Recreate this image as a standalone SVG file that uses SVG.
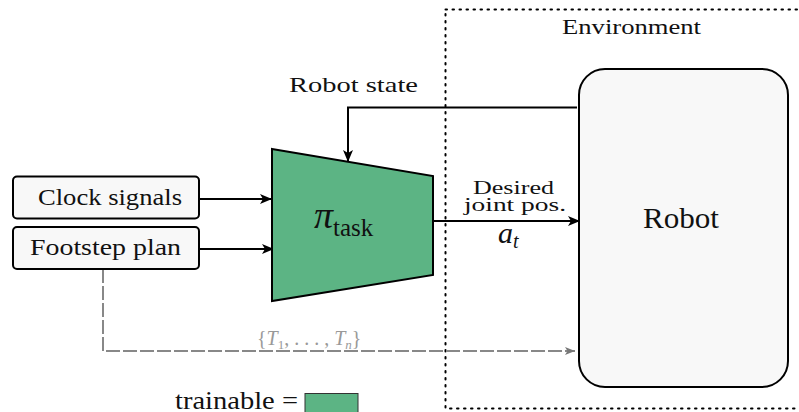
<svg xmlns="http://www.w3.org/2000/svg" width="799" height="412" viewBox="0 0 799 412">
<style>
.t{fill:#111}
.box{fill:#f8f8f8;stroke:#000;stroke-width:2}
.ln{fill:none;stroke:#000;stroke-width:2}
.gray{fill:none;stroke:#888;stroke-width:2;stroke-dasharray:14,3}
</style>
<defs>
<marker id="ah" viewBox="0 0 12 10" refX="12" refY="5" markerWidth="12" markerHeight="10" markerUnits="userSpaceOnUse" orient="auto">
<path d="M0,0 L12,5 L0,10 L3,5 Z" fill="#000"/>
</marker>
<marker id="ahg" viewBox="0 0 10 8" refX="10" refY="4" markerWidth="10" markerHeight="8" markerUnits="userSpaceOnUse" orient="auto">
<path d="M0,0 L10,4 L0,8 L2.5,4 Z" fill="#777"/>
</marker>
</defs>
<g id="environment">
<rect x="445.5" y="9.5" width="360" height="399" fill="none" stroke="#000" stroke-width="2" stroke-dasharray="1.5,5.5" stroke-linecap="round"/>
<text class="t" font-family="Liberation Serif" x="562" y="34" font-size="22" textLength="139" lengthAdjust="spacingAndGlyphs">Environment</text>
</g>
<g id="connectors">
<line class="ln" x1="199" y1="199" x2="272" y2="199" marker-end="url(#ah)"/>
<line class="ln" x1="199" y1="249" x2="274" y2="249" marker-end="url(#ah)"/>
<polyline class="ln" points="577,107.5 348,107.5 348,162" stroke-width="1.6" marker-end="url(#ah)"/>
<line class="ln" x1="433" y1="221" x2="580" y2="221" marker-end="url(#ah)"/>
<polyline class="gray" points="103,269 103,351 575,351" marker-end="url(#ahg)"/>
<text class="t" font-family="Liberation Serif" x="289" y="92" font-size="22" textLength="129" lengthAdjust="spacingAndGlyphs">Robot state</text>
<text class="t" font-family="Liberation Serif" x="473" y="194" font-size="19" textLength="81" lengthAdjust="spacingAndGlyphs">Desired</text>
<text class="t" font-family="Liberation Serif" x="464" y="211" font-size="19" textLength="102" lengthAdjust="spacingAndGlyphs">joint pos.</text>
<text class="t" font-family="Liberation Serif" x="498" y="243" font-size="30" font-style="italic">a<tspan font-size="20" dy="5">t</tspan></text>
<text class="t" font-family="Liberation Serif" x="257" y="345" font-size="20" style="fill:#999">{<tspan font-style="italic">T</tspan><tspan font-size="13" dy="4">1</tspan><tspan dy="-4">, . . . , </tspan><tspan font-style="italic">T</tspan><tspan font-size="13" font-style="italic" dy="4">n</tspan><tspan dy="-4">}</tspan></text>
</g>
<g id="clock">
<rect class="box" x="13" y="176.5" width="186" height="42" rx="4"/>
<text class="t" font-family="Liberation Serif" x="38" y="205" font-size="23" textLength="144" lengthAdjust="spacingAndGlyphs">Clock signals</text>
</g>
<g id="footstep">
<rect class="box" x="13" y="227" width="186" height="42" rx="4"/>
<text class="t" font-family="Liberation Serif" x="30" y="255" font-size="23" textLength="151" lengthAdjust="spacingAndGlyphs">Footstep plan</text>
</g>
<g id="policy">
<polygon points="272,149 433,176 433,275 272,301" fill="#5cb484" stroke="#000" stroke-width="2"/>
<text class="t" font-family="Liberation Serif" x="314" y="228" font-size="38" font-style="italic">π<tspan font-style="normal" font-size="25" dy="8">task</tspan></text>
</g>
<g id="robot">
<rect class="box" x="579" y="69" width="209" height="318" rx="26" stroke-width="2.5"/>
<text class="t" font-family="Liberation Serif" x="643" y="228" font-size="29" textLength="76" lengthAdjust="spacingAndGlyphs">Robot</text>
</g>
<g id="legend">
<text class="t" font-family="Liberation Serif" x="175" y="409" font-size="25" textLength="123" lengthAdjust="spacingAndGlyphs">trainable =</text>
<rect x="305" y="393.5" width="53" height="20" fill="#5cb484" stroke="#333" stroke-width="1"/>
</g>
</svg>
